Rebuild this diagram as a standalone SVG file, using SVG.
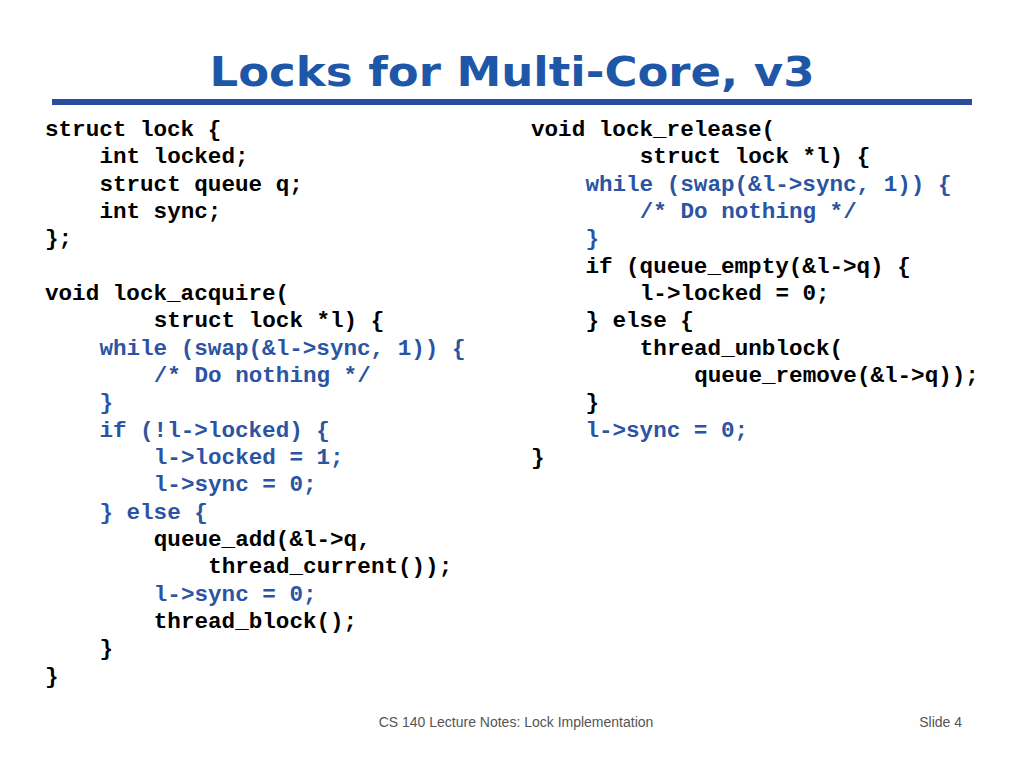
<svg xmlns="http://www.w3.org/2000/svg" width="1024" height="768" viewBox="0 0 1024 768">
<style>
.c{font-family:"Liberation Mono","Courier New",monospace;font-weight:bold;font-size:22.6px;fill:#000}
.b{fill:#2b54a3}
.f{font-family:"Liberation Sans",Arial,sans-serif;font-size:14px;fill:#555}
</style>
<rect width="1024" height="768" fill="#fff"/>
<text x="512" y="86" text-anchor="middle" font-family="'DejaVu Sans',Verdana,sans-serif" font-weight="bold" font-size="41" fill="#1f57a8" textLength="605" lengthAdjust="spacingAndGlyphs">Locks for Multi-Core, v3</text>
<rect x="52" y="99" width="920" height="6" fill="#2a4e9f"/>
<g id="left">
<text class="c" x="45" y="136">struct lock {</text>
<text class="c" x="99.4" y="163">int locked;</text>
<text class="c" x="99.4" y="191">struct queue q;</text>
<text class="c" x="99.4" y="218">int sync;</text>
<text class="c" x="45" y="245">};</text>
<text class="c" x="45" y="300">void lock_acquire(</text>
<text class="c" x="153.8" y="327">struct lock *l) {</text>
<text class="c b" x="99.4" y="355">while (swap(&amp;l-&gt;sync, 1)) {</text>
<text class="c b" x="153.8" y="382">/* Do nothing */</text>
<text class="c b" x="99.4" y="409">}</text>
<text class="c b" x="99.4" y="437">if (!l-&gt;locked) {</text>
<text class="c b" x="153.8" y="464">l-&gt;locked = 1;</text>
<text class="c b" x="153.8" y="491">l-&gt;sync = 0;</text>
<text class="c b" x="99.4" y="519">} else {</text>
<text class="c" x="153.8" y="546">queue_add(&amp;l-&gt;q,</text>
<text class="c" x="208.2" y="573">thread_current());</text>
<text class="c b" x="153.8" y="601">l-&gt;sync = 0;</text>
<text class="c" x="153.8" y="628">thread_block();</text>
<text class="c" x="99.4" y="655">}</text>
<text class="c" x="45" y="683">}</text>
</g>
<g id="right">
<text class="c" x="531" y="136">void lock_release(</text>
<text class="c" x="639.8" y="163">struct lock *l) {</text>
<text class="c b" x="585.4" y="191">while (swap(&amp;l-&gt;sync, 1)) {</text>
<text class="c b" x="639.8" y="218">/* Do nothing */</text>
<text class="c b" x="585.4" y="245">}</text>
<text class="c" x="585.4" y="273">if (queue_empty(&amp;l-&gt;q) {</text>
<text class="c" x="639.8" y="300">l-&gt;locked = 0;</text>
<text class="c" x="585.4" y="327">} else {</text>
<text class="c" x="639.8" y="355">thread_unblock(</text>
<text class="c" x="694.2" y="382">queue_remove(&amp;l-&gt;q));</text>
<text class="c" x="585.4" y="409">}</text>
<text class="c b" x="585.4" y="437">l-&gt;sync = 0;</text>
<text class="c" x="531" y="464">}</text>
</g>
<text class="f" x="516" y="727" text-anchor="middle">CS 140 Lecture Notes: Lock Implementation</text>
<text class="f" x="962" y="727" text-anchor="end">Slide 4</text>
</svg>
